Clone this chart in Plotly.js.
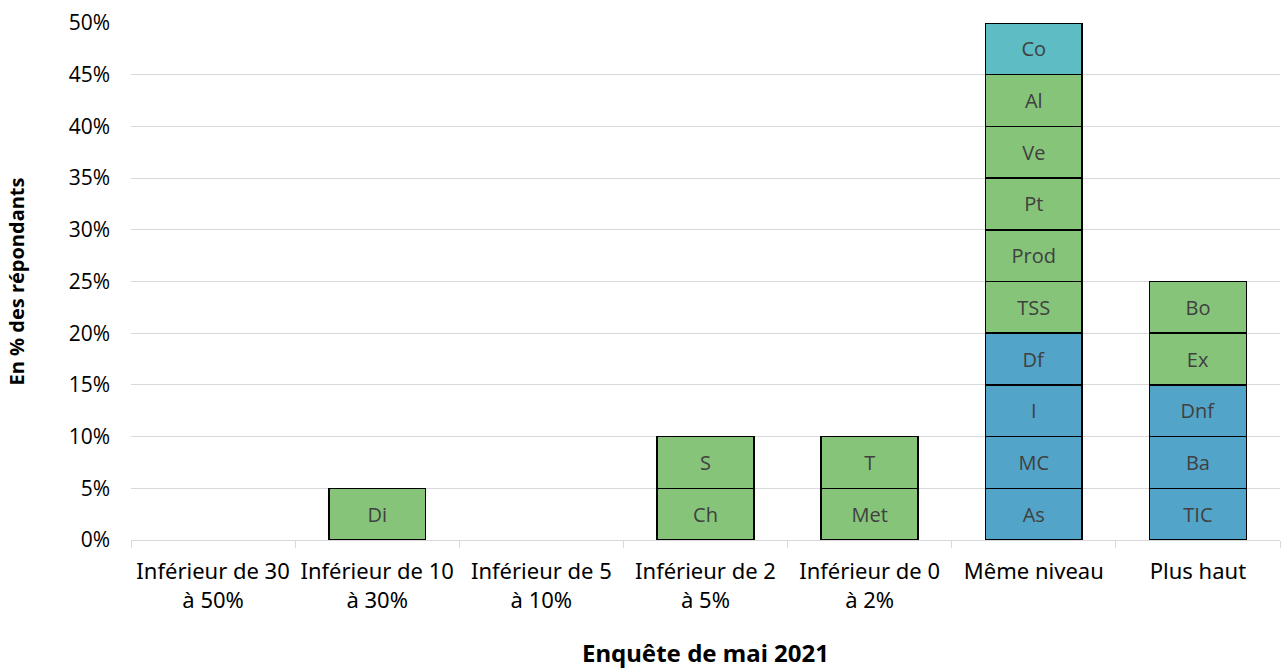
<!DOCTYPE html>
<html>
<head>
<meta charset="utf-8">
<script src="https://cdn.plot.ly/plotly-3.0.1.min.js"></script>
<style>html,body{margin:0;padding:0;background:#fff;}#chart{width:1281px;height:669px;}</style>
</head>
<body>
<div id="chart"></div>
<script>
const categories = ["Inférieur de 30<br>à 50%", "Inférieur de 10<br>à 30%", "Inférieur de 5<br>à 10%", "Inférieur de 2<br>à 5%", "Inférieur de 0<br>à 2%", "Même niveau", "Plus haut"];
// stacked segments per category, bottom to top
const segLabels = [
  [],
  ["Di"],
  [],
  ["Ch", "S"],
  ["Met", "T"],
  ["As", "MC", "I", "Df", "TSS", "Prod", "Pt", "Ve", "Al", "Co"],
  ["TIC", "Ba", "Dnf", "Ex", "Bo"]
];
const segValues = [
  [],
  [5],
  [],
  [5, 5],
  [5, 5],
  [5, 5, 5, 5, 5, 5, 5, 5, 5, 5],
  [5, 5, 5, 5, 5]
];
const segGroups = [
  [],
  ["G"],
  [],
  ["G", "G"],
  ["G", "G"],
  ["B", "B", "B", "B", "G", "G", "G", "G", "G", "T"],
  ["B", "B", "B", "G", "G"]
];
const yTickVals = [0, 5, 10, 15, 20, 25, 30, 35, 40, 45, 50];

const groupColors = { B: "#53a4c9", G: "#86c47a", T: "#5dbcc4" };
const maxLevels = Math.max(...segValues.map(a => a.length));
const traces = [];
for (let lvl = 0; lvl < maxLevels; lvl++) {
  const y = [], text = [], colors = [];
  categories.forEach((c, i) => {
    if (lvl < segValues[i].length) {
      y.push(segValues[i][lvl]);
      text.push(segLabels[i][lvl]);
      colors.push(groupColors[segGroups[i][lvl]]);
    } else {
      y.push(null); text.push(""); colors.push("rgba(0,0,0,0)");
    }
  });
  traces.push({
    type: "bar",
    x: categories,
    y: y,
    text: text,
    textposition: "inside",
    insidetextanchor: "middle",
    constraintext: "none",
    textangle: 0,
    insidetextfont: { family: "Open Sans, sans-serif", size: 20, color: "#404040" },
    marker: { color: colors, line: { color: "#000000", width: 1.5 } },
    hoverinfo: "x+y+text",
    showlegend: false,
    cliponaxis: false
  });
}

const layout = {
  width: 1281,
  height: 669,
  barmode: "stack",
  bargap: 0.41,
  margin: { l: 131, r: 1, t: 23, b: 129 },
  paper_bgcolor: "#ffffff",
  plot_bgcolor: "#ffffff",
  font: { family: "Open Sans, sans-serif", color: "#000000" },
  xaxis: {
    type: "category",
    tickson: "boundaries",
    ticks: "outside",
    ticklen: 7,
    tickcolor: "#d9d9d9",
    showline: true,
    linecolor: "#d9d9d9",
    linewidth: 1,
    showgrid: false,
    ticklabelstandoff: 12,
    tickfont: { family: "Noto Sans, sans-serif", size: 22, color: "#000000" },
    title: { text: "<b>Enquête de mai 2021</b>", font: { family: "Noto Sans, sans-serif", size: 24, color: "#000000" }, standoff: 32 }
  },
  yaxis: {
    range: [0, 50],
    tickvals: yTickVals,
    ticktext: yTickVals.map(v => v + "%"),
    showgrid: true,
    gridcolor: "#d9d9d9",
    gridwidth: 1,
    zeroline: false,
    showline: false,
    ticks: "",
    ticklabelstandoff: 20,
    tickfont: { family: "Open Sans, sans-serif", size: 21, color: "#000000" },
    title: { text: "<b>En % des répondants</b>", font: { family: "Open Sans, sans-serif", size: 20, color: "#000000" }, standoff: 38 }
  }
};

Plotly.newPlot("chart", traces, layout, { displayModeBar: false, staticPlot: true });
</script>
</body>
</html>
